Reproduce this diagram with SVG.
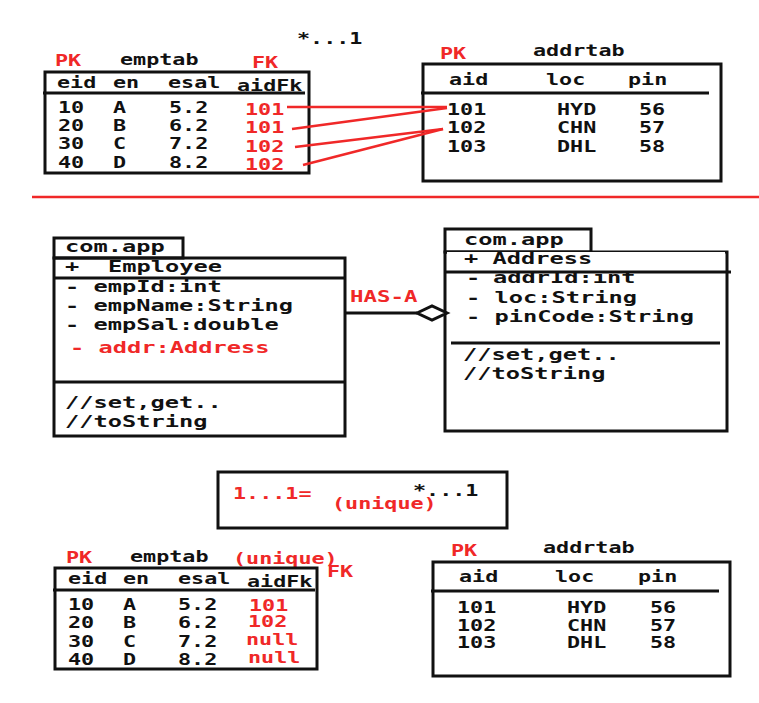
<svg xmlns="http://www.w3.org/2000/svg" width="759" height="703" viewBox="0 0 759 703">
<style>
.t{font-family:"DejaVu Sans Mono","Liberation Mono",monospace;font-weight:bold;font-size:15px;fill:#111}
.m{font-size:16px}
.r{fill:#f02828}
.box{fill:none;stroke:#111;stroke-width:3}
.ln{stroke:#111;stroke-width:3;fill:none}
.rl{stroke:#f02828;stroke-width:2.5;fill:none}
</style>
<rect width="759" height="703" fill="#fff"/>

<g id="label-top-mult">
<text class="t" transform="translate(297 44) scale(1.45 1)">*...1</text>
</g>

<g id="emptab-top">
<text class="t r" transform="translate(55 66) scale(1.45 1)">PK</text>
<text class="t" transform="translate(120 65) scale(1.45 1)">emptab</text>
<text class="t r" transform="translate(252 68) scale(1.45 1)">FK</text>
<rect class="box" x="45" y="72" width="264" height="101"/>
<line class="ln" x1="43" y1="93" x2="305" y2="93"/>
<text class="t" transform="translate(57 88) scale(1.45 1)">eid</text>
<text class="t" transform="translate(113 88) scale(1.45 1)">en</text>
<text class="t" transform="translate(168 88) scale(1.45 1)">esal</text>
<text class="t" transform="translate(237 91) scale(1.45 1)">aidFk</text>
<text class="t" transform="translate(58 113) scale(1.45 1)">10</text>
<text class="t" transform="translate(113 113) scale(1.45 1)">A</text>
<text class="t" transform="translate(169 113) scale(1.45 1)">5.2</text>
<text class="t r" transform="translate(245 115) scale(1.45 1)">101</text>
<text class="t" transform="translate(58 131) scale(1.45 1)">20</text>
<text class="t" transform="translate(113 131) scale(1.45 1)">B</text>
<text class="t" transform="translate(169 131) scale(1.45 1)">6.2</text>
<text class="t r" transform="translate(245 133) scale(1.45 1)">101</text>
<text class="t" transform="translate(58 149) scale(1.45 1)">30</text>
<text class="t" transform="translate(113 149) scale(1.45 1)">C</text>
<text class="t" transform="translate(169 149) scale(1.45 1)">7.2</text>
<text class="t r" transform="translate(245 152) scale(1.45 1)">102</text>
<text class="t" transform="translate(58 168) scale(1.45 1)">40</text>
<text class="t" transform="translate(113 168) scale(1.45 1)">D</text>
<text class="t" transform="translate(169 168) scale(1.45 1)">8.2</text>
<text class="t r" transform="translate(245 170) scale(1.45 1)">102</text>
</g>

<g id="addrtab-top">
<text class="t r" transform="translate(440 59) scale(1.45 1)">PK</text>
<text class="t" transform="translate(533 56) scale(1.45 1)">addrtab</text>
<rect class="box" x="423" y="64" width="298" height="117"/>
<line class="ln" x1="421" y1="93" x2="709" y2="93"/>
<text class="t" transform="translate(449 85) scale(1.45 1)">aid</text>
<text class="t" transform="translate(546 85) scale(1.45 1)">loc</text>
<text class="t" transform="translate(628 85) scale(1.45 1)">pin</text>
<text class="t" transform="translate(447 115) scale(1.45 1)">101</text>
<text class="t" transform="translate(557 115) scale(1.45 1)">HYD</text>
<text class="t" transform="translate(639 115) scale(1.45 1)">56</text>
<text class="t" transform="translate(447 133) scale(1.45 1)">102</text>
<text class="t" transform="translate(557 133) scale(1.45 1)">CHN</text>
<text class="t" transform="translate(639 133) scale(1.45 1)">57</text>
<text class="t" transform="translate(447 152) scale(1.45 1)">103</text>
<text class="t" transform="translate(557 152) scale(1.45 1)">DHL</text>
<text class="t" transform="translate(639 152) scale(1.45 1)">58</text>
</g>

<line id="separator" x1="32" y1="197" x2="759" y2="197" stroke="#f02828" stroke-width="2.5"/>

<g id="employee-class">
<rect class="box" x="54" y="238" width="129" height="20"/>
<rect class="box" x="54" y="258" width="291" height="178"/>
<line class="ln" x1="54" y1="278" x2="345" y2="278"/>
<line class="ln" x1="54" y1="382" x2="345" y2="382"/>
<text class="t m" transform="translate(65 252) scale(1.48 1)">com.app</text>
<text class="t m" transform="translate(65 272) scale(1.48 1)">+</text>
<text class="t m" transform="translate(108 272) scale(1.48 1)">Employee</text>
<text class="t m" transform="translate(65 292) scale(1.48 1)">- empId:int</text>
<text class="t m" transform="translate(65 311) scale(1.48 1)">- empName:String</text>
<text class="t m" transform="translate(65 330) scale(1.48 1)">- empSal:double</text>
<text class="t m r" transform="translate(70 353) scale(1.48 1)">- addr:Address</text>
<text class="t m" transform="translate(65 408) scale(1.48 1)">//set,get..</text>
<text class="t m" transform="translate(65 427) scale(1.48 1)">//toString</text>
</g>

<g id="address-class">
<rect class="box" x="445" y="229" width="146" height="23"/>
<rect class="box" x="445" y="252" width="282" height="179"/>
<text class="t m" transform="translate(493 283) scale(1.48 1)">addrId:int</text>
<text class="t m" transform="translate(466 283) scale(1.48 1)">-</text>
<rect x="447" y="252" width="278" height="20" fill="#fff"/>
<line class="ln" x1="445" y1="272" x2="731" y2="272"/>
<line class="ln" x1="451" y1="343" x2="720" y2="343"/>
<text class="t m" transform="translate(464 245) scale(1.48 1)">com.app</text>
<text class="t m" transform="translate(464 264) scale(1.48 1)">+ Address</text>
<text class="t m" transform="translate(466 303) scale(1.48 1)">- loc:String</text>
<text class="t m" transform="translate(466 322) scale(1.48 1)">- pinCode:String</text>
<text class="t m" transform="translate(463 360) scale(1.48 1)">//set,get..</text>
<text class="t m" transform="translate(463 379) scale(1.48 1)">//toString</text>
</g>

<g id="connectors">
<line class="rl" x1="287" y1="107" x2="447" y2="107"/>
<line class="rl" x1="292" y1="129" x2="447" y2="108"/>
<line class="rl" x1="295" y1="147" x2="443" y2="129"/>
<line class="rl" x1="303" y1="165" x2="443" y2="129"/>
<line class="ln" x1="345" y1="313" x2="417" y2="313" stroke-width="2.5"/>
<polygon points="417,313 432,306 447,313 432,320" fill="#fff" stroke="#111" stroke-width="3"/>
<text class="t m r" transform="translate(350 302) scale(1.4 1)">HAS-A</text>
</g>

<g id="note-box">
<rect class="box" x="218" y="472" width="289" height="56"/>
<text class="t r" transform="translate(233 499) scale(1.45 1)">1...1=</text>
<text class="t" transform="translate(413 496) scale(1.45 1)">*...1</text>
<text class="t r" transform="translate(332 509) scale(1.45 1)">(unique)</text>
</g>

<g id="emptab-bottom">
<text class="t r" transform="translate(66 563) scale(1.45 1)">PK</text>
<text class="t" transform="translate(130 562) scale(1.45 1)">emptab</text>
<text class="t r" transform="translate(233 564) scale(1.45 1)">(unique)</text>
<text class="t r" transform="translate(327 577) scale(1.45 1)">FK</text>
<rect class="box" x="55" y="568" width="262" height="101"/>
<line class="ln" x1="53" y1="590" x2="315" y2="590"/>
<text class="t" transform="translate(68 584) scale(1.45 1)">eid</text>
<text class="t" transform="translate(123 584) scale(1.45 1)">en</text>
<text class="t" transform="translate(178 584) scale(1.45 1)">esal</text>
<text class="t" transform="translate(247 587) scale(1.45 1)">aidFk</text>
<text class="t" transform="translate(68 610) scale(1.45 1)">10</text>
<text class="t" transform="translate(123 610) scale(1.45 1)">A</text>
<text class="t" transform="translate(178 610) scale(1.45 1)">5.2</text>
<text class="t r" transform="translate(249 611) scale(1.45 1)">101</text>
<text class="t" transform="translate(68 628) scale(1.45 1)">20</text>
<text class="t" transform="translate(123 628) scale(1.45 1)">B</text>
<text class="t" transform="translate(178 628) scale(1.45 1)">6.2</text>
<text class="t r" transform="translate(248 627) scale(1.45 1)">102</text>
<text class="t" transform="translate(68 647) scale(1.45 1)">30</text>
<text class="t" transform="translate(123 647) scale(1.45 1)">C</text>
<text class="t" transform="translate(178 647) scale(1.45 1)">7.2</text>
<text class="t r" transform="translate(246 645) scale(1.45 1)">null</text>
<text class="t" transform="translate(68 665) scale(1.45 1)">40</text>
<text class="t" transform="translate(123 665) scale(1.45 1)">D</text>
<text class="t" transform="translate(178 665) scale(1.45 1)">8.2</text>
<text class="t r" transform="translate(248 663) scale(1.45 1)">null</text>
</g>

<g id="addrtab-bottom">
<text class="t r" transform="translate(451 556) scale(1.45 1)">PK</text>
<text class="t" transform="translate(543 553) scale(1.45 1)">addrtab</text>
<rect class="box" x="433" y="562" width="297" height="114"/>
<line class="ln" x1="431" y1="591" x2="719" y2="591"/>
<text class="t" transform="translate(459 582) scale(1.45 1)">aid</text>
<text class="t" transform="translate(555 582) scale(1.45 1)">loc</text>
<text class="t" transform="translate(638 582) scale(1.45 1)">pin</text>
<text class="t" transform="translate(457 613) scale(1.45 1)">101</text>
<text class="t" transform="translate(567 613) scale(1.45 1)">HYD</text>
<text class="t" transform="translate(650 613) scale(1.45 1)">56</text>
<text class="t" transform="translate(457 631) scale(1.45 1)">102</text>
<text class="t" transform="translate(567 631) scale(1.45 1)">CHN</text>
<text class="t" transform="translate(650 631) scale(1.45 1)">57</text>
<text class="t" transform="translate(457 648) scale(1.45 1)">103</text>
<text class="t" transform="translate(567 648) scale(1.45 1)">DHL</text>
<text class="t" transform="translate(650 648) scale(1.45 1)">58</text>
</g>
</svg>
